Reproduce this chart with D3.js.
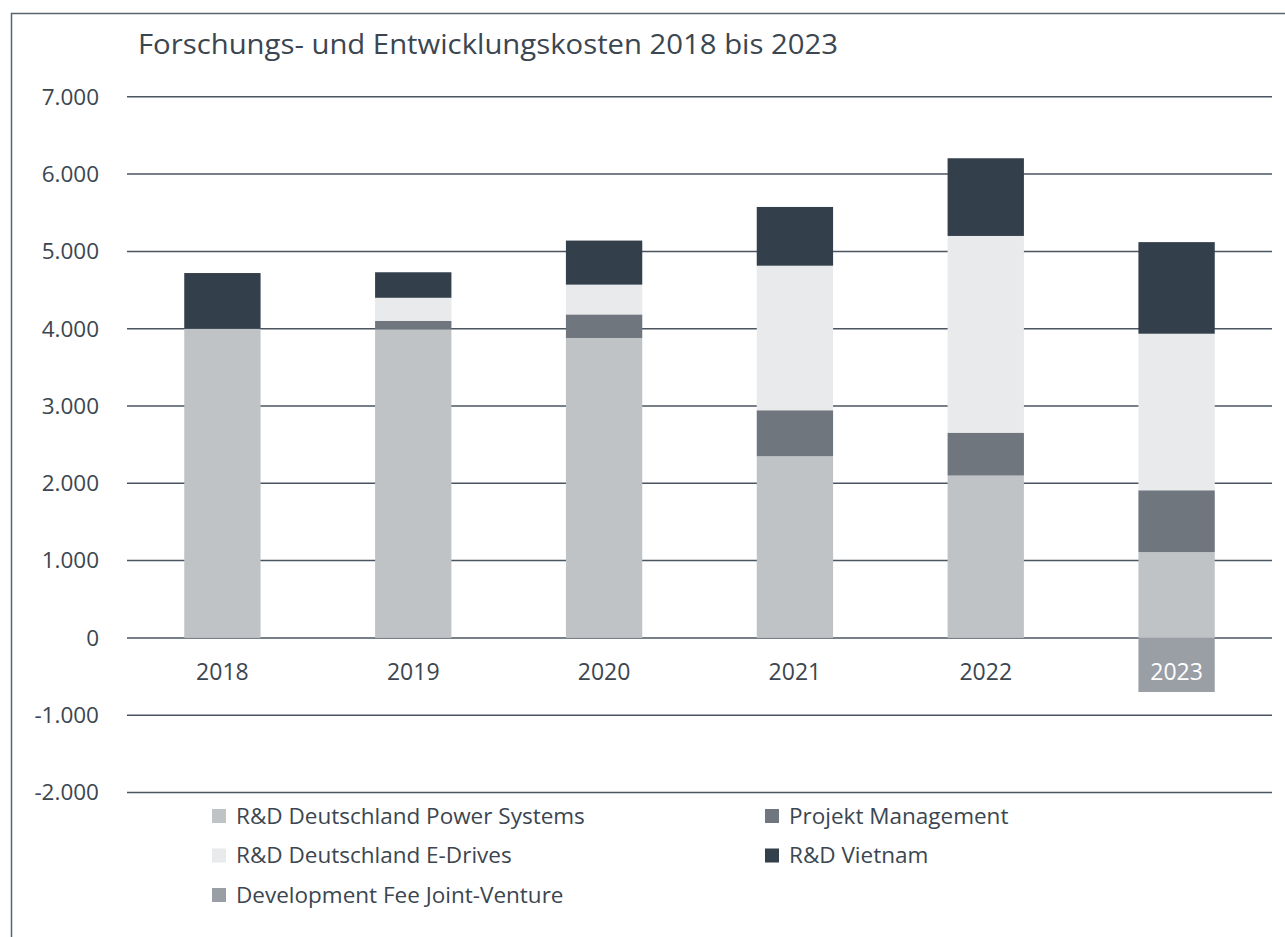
<!DOCTYPE html>
<html>
<head>
<meta charset="utf-8">
<script src="https://cdn.jsdelivr.net/npm/d3@7"></script>
<style>
  body { margin: 0; background: #fff; }
  text { font-family: "Open Sans", sans-serif; font-weight: 400; fill: #3b4650; }
</style>
</head>
<body>
<div id="chart"></div>
<script>
const years = ['2018', '2019', '2020', '2021', '2022', '2023'];
const seriesNames = [
  'R&D Deutschland Power Systems',
  'Projekt Management',
  'R&D Deutschland E-Drives',
  'R&D Vietnam',
  'Development Fee Joint-Venture'
];
const powerSystems = [4000, 3990, 3880, 2350, 2100, 1110];
const projektMgmt = [0, 110, 305, 595, 555, 800];
const eDrives = [0, 300, 385, 1870, 2545, 2025];
const vietnam = [720, 330, 570, 760, 1005, 1185];
const jointVenture = [0, 0, 0, 0, 0, -700];
const colors = ['#c0c3c6', '#6f767d', '#e9eaec', '#333f4a', '#9a9ea5'];
const yTicks = [-2000, -1000, 0, 1000, 2000, 3000, 4000, 5000, 6000, 7000];
const title = 'Forschungs- und Entwicklungskosten 2018 bis 2023';

const W = 1285, H = 937;
const svg = d3.select('#chart').append('svg').attr('width', W).attr('height', H);

// frame (left + top)
svg.append('path')
  .attr('d', `M11.5,${H} V13.5 H${W}`)
  .attr('fill', 'none').attr('stroke', '#5a646d').attr('stroke-width', 1.5);

svg.append('text')
  .attr('x', 138).attr('y', 54)
  .attr('font-size', 28)
  .attr('textLength', 700).attr('lengthAdjust', 'spacingAndGlyphs')
  .text(title);

const x = d3.scaleBand().domain(years).range([127, 1272]).paddingInner(0.6).paddingOuter(0.3);
const y = d3.scaleLinear().domain([-2000, 7000]).range([792.5, 96.8]);

// gridlines
svg.append('g').selectAll('line').data(yTicks).enter().append('line')
  .attr('x1', 127).attr('x2', 1272)
  .attr('y1', d => y(d)).attr('y2', d => y(d))
  .attr('stroke', '#4a5560').attr('stroke-width', 1.5);

const fmt = d3.formatLocale({ decimal: ',', thousands: '.', grouping: [3], currency: ['', '€'], minus: '-' }).format(',');
svg.append('g').selectAll('text').data(yTicks).enter().append('text')
  .attr('x', 99).attr('y', d => y(d)).attr('dy', '0.35em')
  .attr('text-anchor', 'end').attr('font-size', 22.5)
  .text(d => fmt(d));

// stacked bars
const rows = years.map((yr, i) => ({
  year: yr,
  vals: [powerSystems[i], projektMgmt[i], eDrives[i], vietnam[i], jointVenture[i]]
}));
const barG = svg.append('g');
rows.forEach(r => {
  let pos = 0, neg = 0;
  r.vals.forEach((v, s) => {
    if (!v) return;
    let y0, y1;
    if (v >= 0) { y0 = pos; y1 = pos + v; pos = y1; }
    else { y0 = neg + v; y1 = neg; neg = y0; }
    barG.append('rect')
      .attr('x', x(r.year)).attr('width', x.bandwidth())
      .attr('y', y(y1)).attr('height', y(y0) - y(y1))
      .attr('fill', colors[s]);
  });
  r.neg = neg;
});

// category labels
svg.append('g').selectAll('text').data(rows).enter().append('text')
  .attr('x', d => x(d.year) + x.bandwidth() / 2)
  .attr('y', y(0) + 42)
  .attr('text-anchor', 'middle').attr('font-size', 23)
  .style('fill', d => d.neg < -400 ? '#ffffff' : '#3b4650')
  .text(d => d.year);

// legend: two columns, row-major
const legX = [212, 765];
const legY0 = 816, legStep = 39.5;
const leg = svg.append('g').selectAll('g').data(seriesNames).enter().append('g')
  .attr('transform', (d, i) => `translate(${legX[i % 2]},${legY0 + Math.floor(i / 2) * legStep})`);
leg.append('rect').attr('x', 0).attr('y', -7).attr('width', 14).attr('height', 14)
  .attr('fill', (d, i) => colors[i]);
leg.append('text').attr('x', 24).attr('y', 0).attr('dy', '0.35em')
  .attr('font-size', 22.5).text(d => d);
</script>
</body>
</html>
